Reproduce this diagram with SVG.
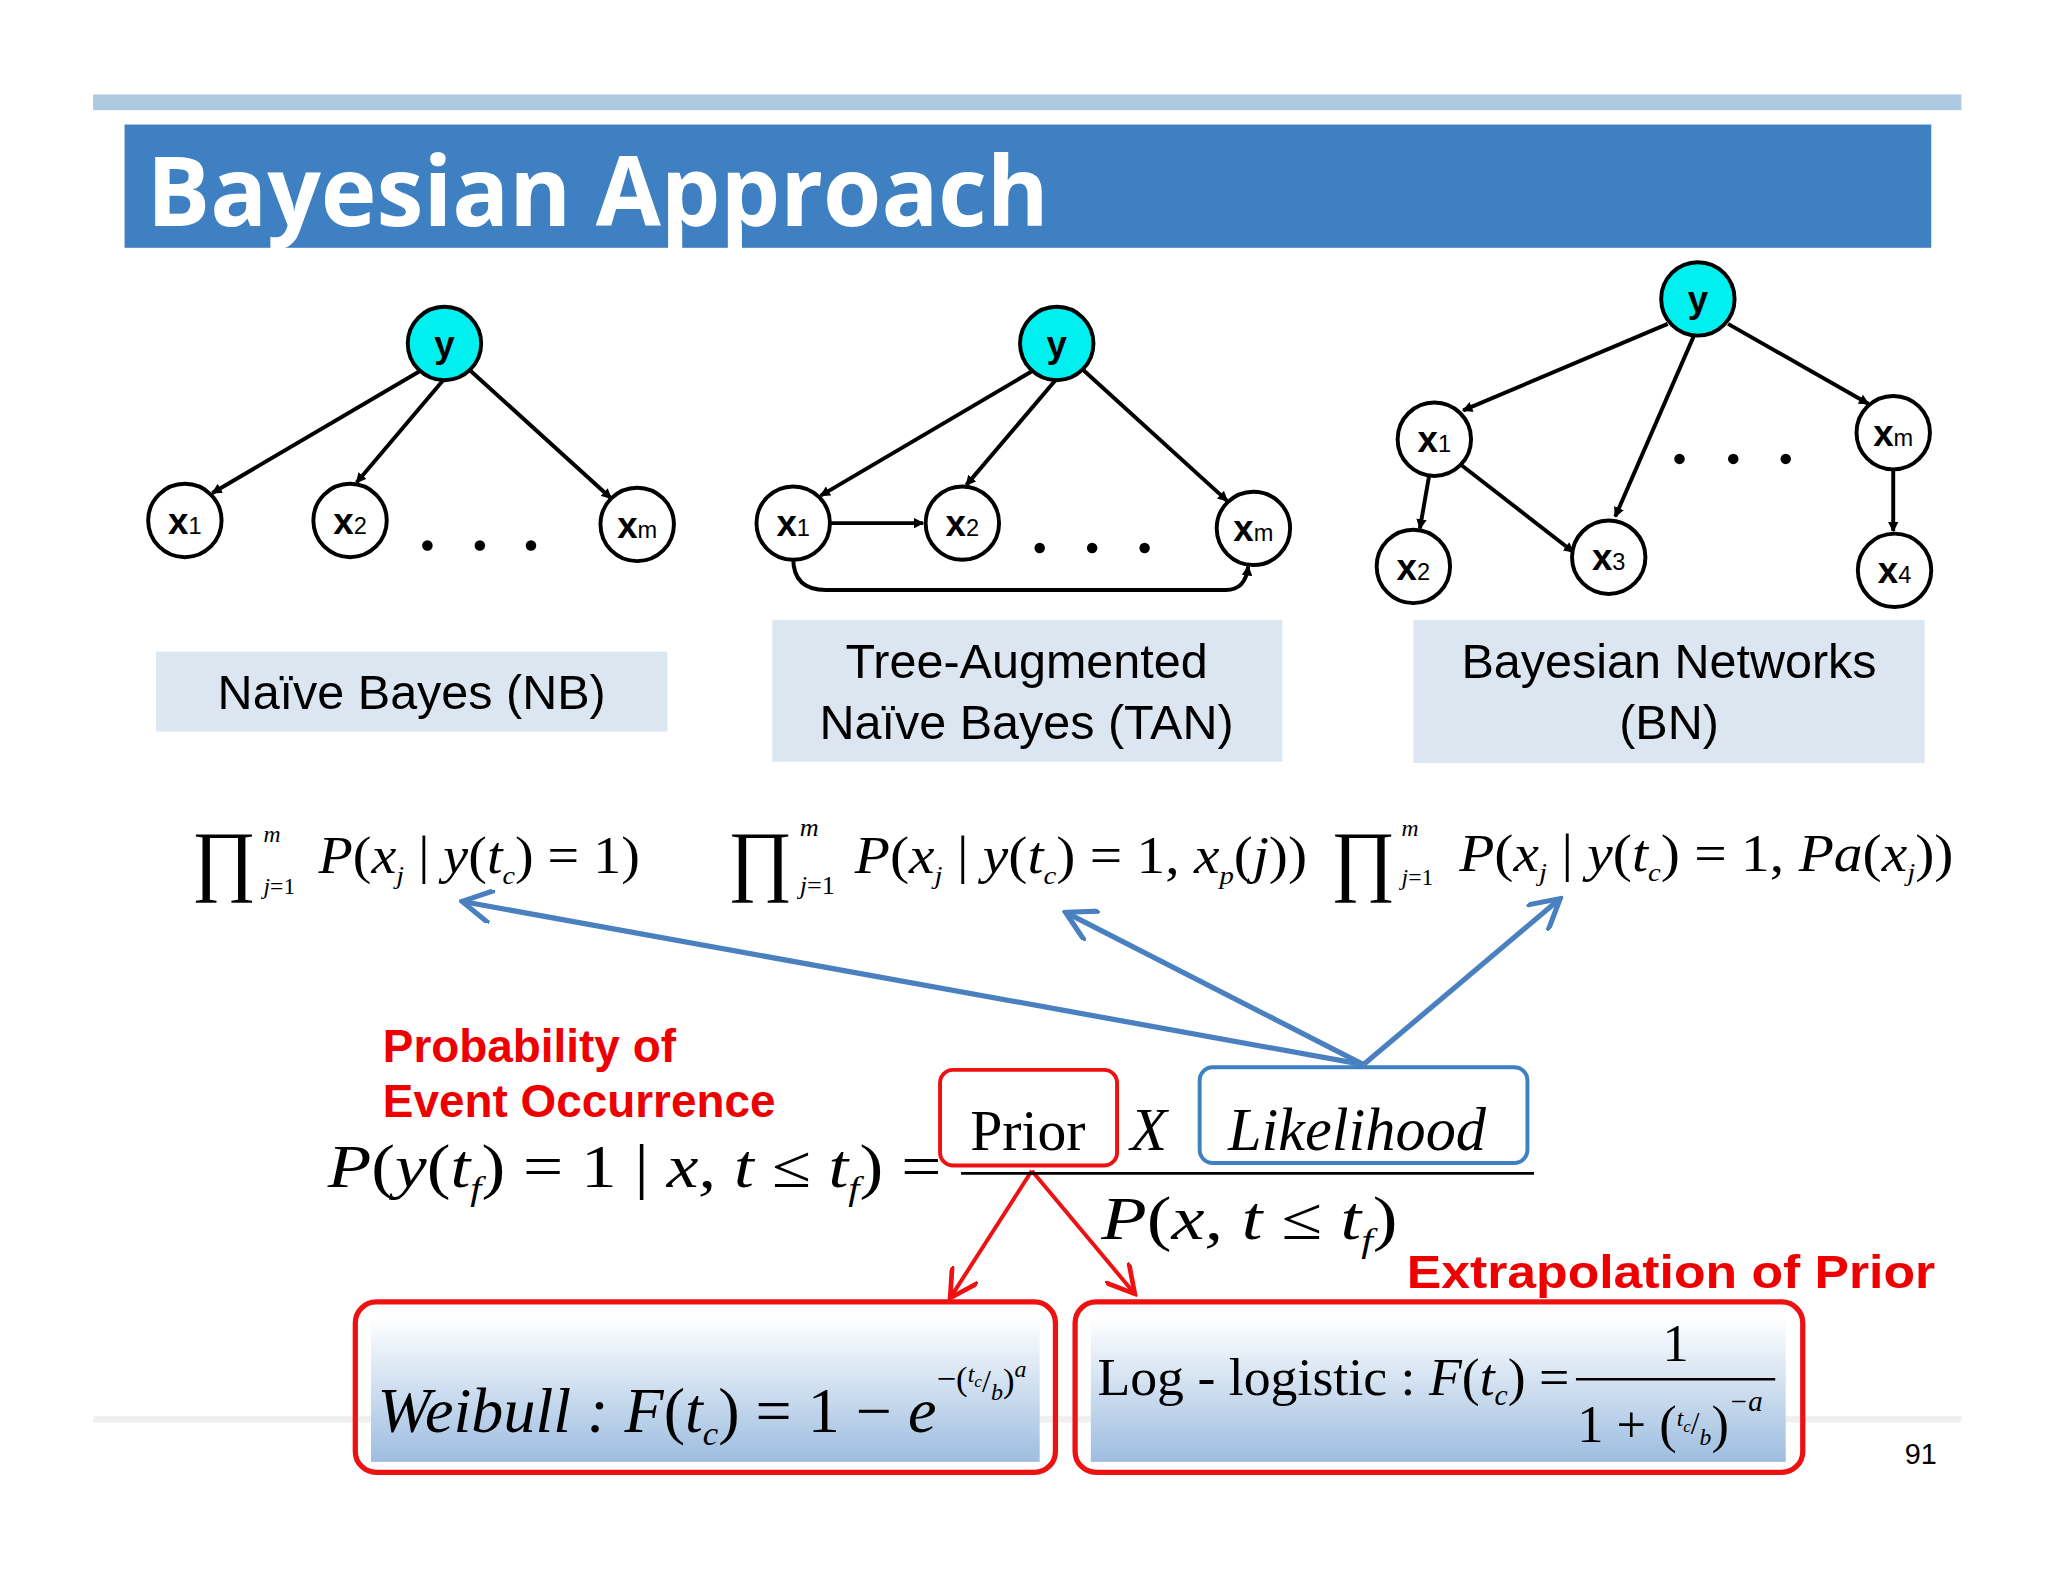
<svg xmlns="http://www.w3.org/2000/svg" width="2048" height="1582" viewBox="0 0 2048 1582">
<defs>
<style>
.nd{fill:#fff;stroke:#000;stroke-width:3}
.ny{fill:#00f0f0;stroke:#000;stroke-width:3}
.nt{font-family:"Liberation Sans",Arial,sans-serif;font-size:28px;font-weight:bold;text-anchor:middle}
.sub{font-size:18px;font-weight:normal}
.e{stroke:#000;stroke-width:3;fill:none;marker-end:url(#ah)}
.lb{fill:#dce6f1}
.lt{font-family:"Liberation Sans",Arial,sans-serif;font-size:37px;text-anchor:middle}
.m{font-family:"Liberation Serif","Times New Roman",serif;font-style:italic}
.r{font-style:normal}
.red{font-family:"Liberation Sans",Arial,sans-serif;font-weight:bold;font-size:35px;fill:#ee0000}
.ba{stroke:#4a80c0;stroke-width:4;fill:none;marker-end:url(#bh)}
.ra{stroke:#ee1111;stroke-width:3;fill:none;marker-end:url(#rh)}
.dot{fill:#000}
</style>
<marker id="ah" markerWidth="8" markerHeight="8" refX="7" refY="4" orient="auto" markerUnits="userSpaceOnUse" viewBox="0 0 8 8"><path d="M0,0 L8,4 L0,8 z" fill="#000"/></marker>
<marker id="bh" viewBox="0 0 10 10" refX="8" refY="5" markerWidth="26" markerHeight="26" orient="auto" markerUnits="userSpaceOnUse"><path d="M0,0 L9,5 L0,10" fill="none" stroke="#4a80c0" stroke-width="1.5"/></marker>
<marker id="rh" viewBox="0 0 10 10" refX="8" refY="5" markerWidth="24" markerHeight="24" orient="auto" markerUnits="userSpaceOnUse"><path d="M0,0 L9,5 L0,10" fill="none" stroke="#ee1111" stroke-width="1.5"/></marker>
<linearGradient id="gb" x1="0" y1="0" x2="0" y2="1"><stop offset="0" stop-color="#ffffff"/><stop offset="1" stop-color="#9dbde0"/></linearGradient>
</defs>
<rect width="2048" height="1582" fill="#fff"/>
<g transform="scale(1.3111)">
<g id="header">
<rect x="71" y="72" width="1425" height="12" fill="#aec9e2"/>
<rect x="95" y="95" width="1378" height="94" fill="#3f80c2"/>
<text x="112" y="172" font-family="'Open Sans','Liberation Sans',sans-serif" font-weight="bold" font-size="74" fill="#fff" textLength="688" lengthAdjust="spacingAndGlyphs">Bayesian Approach</text>
<rect x="71" y="1080" width="1425" height="5" fill="#f0f0f0"/>
</g>
<g id="connectors">
<line class="e" x1="322" y1="282" x2="162" y2="376"/>
<line class="e" x1="338" y1="290" x2="272" y2="368"/>
<line class="e" x1="358" y1="282" x2="466" y2="380"/>
<line class="e" x1="789" y1="282" x2="626" y2="378"/>
<line class="e" x1="805" y1="290" x2="737" y2="370"/>
<line class="e" x1="826" y1="282" x2="936" y2="382"/>
<line class="e" x1="633" y1="399" x2="704" y2="399"/>
<path class="e" d="M605,426 Q605,450 630,450 L935,450 Q950,450 952,432"/>
<line class="e" x1="1272" y1="247" x2="1116" y2="313"/>
<line class="e" x1="1292" y1="256" x2="1232" y2="394"/>
<line class="e" x1="1318" y1="247" x2="1425" y2="308"/>
<line class="e" x1="1090" y1="363" x2="1083" y2="403"/>
<line class="e" x1="1115" y1="355" x2="1200" y2="421"/>
<line class="e" x1="1444" y1="358" x2="1444" y2="405"/>
<line class="ba" x1="1040" y1="812" x2="355" y2="688"/>
<line class="ba" x1="1040" y1="812" x2="815" y2="697"/>
<line class="ba" x1="1040" y1="812" x2="1188" y2="687"/>
<line class="ra" x1="787" y1="893" x2="726" y2="988"/>
<line class="ra" x1="787" y1="893" x2="864" y2="985"/>
</g>
<g id="nb">
<circle class="ny" cx="339" cy="262" r="28"/><text class="nt" x="339" y="272" font-weight="normal">y</text>
<circle class="nd" cx="141" cy="397" r="28"/><text class="nt" x="141" y="407">x<tspan class="sub">1</tspan></text>
<circle class="nd" cx="267" cy="397" r="28"/><text class="nt" x="267" y="407">x<tspan class="sub">2</tspan></text>
<circle class="nd" cx="486" cy="400" r="28"/><text class="nt" x="486" y="410">x<tspan class="sub">m</tspan></text>
<circle class="dot" cx="326" cy="416" r="4"/><circle class="dot" cx="366" cy="416" r="4"/><circle class="dot" cx="405" cy="416" r="4"/>
<rect class="lb" x="119" y="497" width="390" height="61"/>
<text class="lt" x="314" y="541">Naïve Bayes (NB)</text>
</g>
<g id="tan">
<circle class="ny" cx="806" cy="262" r="28"/><text class="nt" x="806" y="272" font-weight="normal">y</text>
<circle class="nd" cx="605" cy="399" r="28"/><text class="nt" x="605" y="409">x<tspan class="sub">1</tspan></text>
<circle class="nd" cx="734" cy="399" r="28"/><text class="nt" x="734" y="409">x<tspan class="sub">2</tspan></text>
<circle class="nd" cx="956" cy="403" r="28"/><text class="nt" x="956" y="413">x<tspan class="sub">m</tspan></text>
<circle class="dot" cx="793" cy="418" r="4"/><circle class="dot" cx="833" cy="418" r="4"/><circle class="dot" cx="873" cy="418" r="4"/>
<rect class="lb" x="589" y="473" width="389" height="108"/>
<text class="lt" x="783" y="517">Tree-Augmented</text>
<text class="lt" x="783" y="564">Naïve Bayes (TAN)</text>
</g>
<g id="bn">
<circle class="ny" cx="1295" cy="228" r="28"/><text class="nt" x="1295" y="238" font-weight="normal">y</text>
<circle class="nd" cx="1094" cy="335" r="28"/><text class="nt" x="1094" y="345">x<tspan class="sub">1</tspan></text>
<circle class="nd" cx="1444" cy="330" r="28"/><text class="nt" x="1444" y="340">x<tspan class="sub">m</tspan></text>
<circle class="nd" cx="1078" cy="432" r="28"/><text class="nt" x="1078" y="442">x<tspan class="sub">2</tspan></text>
<circle class="nd" cx="1227" cy="425" r="28"/><text class="nt" x="1227" y="435">x<tspan class="sub">3</tspan></text>
<circle class="nd" cx="1445" cy="435" r="28"/><text class="nt" x="1445" y="445">x<tspan class="sub">4</tspan></text>
<circle class="dot" cx="1281" cy="350" r="4"/><circle class="dot" cx="1322" cy="350" r="4"/><circle class="dot" cx="1362" cy="350" r="4"/>
<rect class="lb" x="1078" y="473" width="390" height="109"/>
<text class="lt" x="1273" y="517">Bayesian Networks</text>
<text class="lt" x="1273" y="564">(BN)</text>
</g>
<g id="formulas">
<text class="r" x="146" y="676" font-family="'Liberation Serif',serif" font-size="60">∏</text>
<text class="m" x="201" y="642" style="font-size:18px">m</text>
<text class="m" x="201" y="682" style="font-size:18px">j<tspan class="r">=1</tspan></text>
<text class="m" x="243" y="666" style="font-size:40px" textLength="245" lengthAdjust="spacingAndGlyphs">P<tspan class="r">(</tspan>x<tspan font-size="20" dy="8">j</tspan><tspan class="r" dy="-8"> | </tspan>y<tspan class="r">(</tspan>t<tspan font-size="20" dy="8">c</tspan><tspan class="r" dy="-8">) = 1)</tspan></text>
<text class="r" x="555" y="676" font-family="'Liberation Serif',serif" font-size="60">∏</text>
<text class="m" x="610" y="638" style="font-size:20px">m</text>
<text class="m" x="610" y="682" style="font-size:20px">j<tspan class="r">=1</tspan></text>
<text class="m" x="652" y="666" style="font-size:40px" textLength="345" lengthAdjust="spacingAndGlyphs">P<tspan class="r">(</tspan>x<tspan font-size="20" dy="8">j</tspan><tspan class="r" dy="-8"> | </tspan>y<tspan class="r">(</tspan>t<tspan font-size="20" dy="8">c</tspan><tspan class="r" dy="-8">) = 1, </tspan>x<tspan font-size="20" dy="8">p</tspan><tspan class="r" dy="-8">(</tspan>j<tspan class="r">))</tspan></text>
<text class="r" x="1015" y="676" font-family="'Liberation Serif',serif" font-size="60">∏</text>
<text class="m" x="1069" y="638" style="font-size:18px">m</text>
<text class="m" x="1069" y="675" style="font-size:18px">j<tspan class="r">=1</tspan></text>
<text class="m" x="1113" y="664" style="font-size:40px" textLength="377" lengthAdjust="spacingAndGlyphs">P<tspan class="r">(</tspan>x<tspan font-size="20" dy="8">j</tspan><tspan class="r" dy="-8"> | </tspan>y<tspan class="r">(</tspan>t<tspan font-size="20" dy="8">c</tspan><tspan class="r" dy="-8">) = 1, </tspan>Pa<tspan class="r">(</tspan>x<tspan font-size="20" dy="8">j</tspan><tspan class="r" dy="-8">))</tspan></text>
</g>
<g id="labels">
<text class="red" x="292" y="810">Probability of</text>
<text class="red" x="292" y="852">Event Occurrence</text>
<text class="red" x="1073" y="982" textLength="403" lengthAdjust="spacingAndGlyphs">Extrapolation of Prior</text>
<text x="1465" y="1117" font-family="'Liberation Sans',Arial,sans-serif" font-size="22" text-anchor="middle">91</text>
</g>
<g id="prior">
<rect x="717" y="816" width="135" height="73" rx="10" fill="none" stroke="#ee1111" stroke-width="3"/>
<text class="m r" x="784" y="877" text-anchor="middle" style="font-size:44px">Prior</text>
</g>
<g id="likelihood">
<rect x="915" y="814" width="250" height="73" rx="10" fill="none" stroke="#3f80c2" stroke-width="3"/>
<text class="m" x="1035" y="877" text-anchor="middle" style="font-size:46px">Likelihood</text>
</g>
<g id="equation">
<text class="m" x="250" y="905" style="font-size:46px" textLength="468" lengthAdjust="spacingAndGlyphs">P<tspan class="r">(</tspan>y<tspan class="r">(</tspan>t<tspan font-size="26" dy="10">f</tspan><tspan class="r" dy="-10">) = 1 | </tspan>x, t ≤ t<tspan font-size="26" dy="10">f</tspan><tspan class="r" dy="-10">) =</tspan></text>
<text class="m" x="862" y="877" style="font-size:46px">X</text>
<line x1="733" y1="895" x2="1170" y2="895" stroke="#000" stroke-width="2"/>
<text class="m" x="840" y="945" style="font-size:46px" textLength="226" lengthAdjust="spacingAndGlyphs">P<tspan class="r">(</tspan>x, t ≤ t<tspan font-size="26" dy="10">f</tspan><tspan class="r" dy="-10">)</tspan></text>
</g>
<g id="weibull">
<rect x="283" y="1005" width="510" height="110" fill="url(#gb)"/>
<rect x="271" y="993" width="534" height="130" rx="16" fill="none" stroke="#ee1111" stroke-width="4"/>
<text class="m" x="288" y="1092" style="font-size:48px" textLength="495" lengthAdjust="spacingAndGlyphs">Weibull : F<tspan class="r">(</tspan>t<tspan font-size="26" dy="10">c</tspan><tspan class="r" dy="-10">) = 1 − </tspan>e<tspan font-size="26" dy="-32" class="r">−(</tspan><tspan font-size="18" dy="-6">t</tspan><tspan font-size="13" dy="4">c</tspan><tspan font-size="24" dy="4" class="r">/</tspan><tspan font-size="18" dy="6">b</tspan><tspan font-size="26" dy="-6" class="r">)</tspan><tspan font-size="18" dy="-12">a</tspan></text>
</g>
<g id="loglogistic">
<rect x="832" y="1005" width="530" height="110" fill="url(#gb)"/>
<rect x="820" y="993" width="555" height="130" rx="16" fill="none" stroke="#ee1111" stroke-width="4"/>
<text class="m r" x="837" y="1064" style="font-size:40px" textLength="360" lengthAdjust="spacingAndGlyphs">Log - logistic : <tspan font-style="italic">F</tspan>(<tspan font-style="italic">t</tspan><tspan font-size="22" dy="8" font-style="italic">c</tspan><tspan dy="-8">) =</tspan></text>
<text class="m r" x="1278" y="1038" style="font-size:40px" text-anchor="middle">1</text>
<line x1="1202" y1="1052" x2="1354" y2="1052" stroke="#000" stroke-width="2"/>
<text class="m r" x="1203" y="1100" style="font-size:40px">1 + (<tspan font-size="18" dy="-12" font-style="italic">t</tspan><tspan font-size="13" dy="4" font-style="italic">c</tspan><tspan font-size="24" dy="2">/</tspan><tspan font-size="18" dy="8" font-style="italic">b</tspan><tspan dy="-2">)</tspan><tspan font-size="22" dy="-24" font-style="italic">−a</tspan></text>
</g>
</g>
</svg>
